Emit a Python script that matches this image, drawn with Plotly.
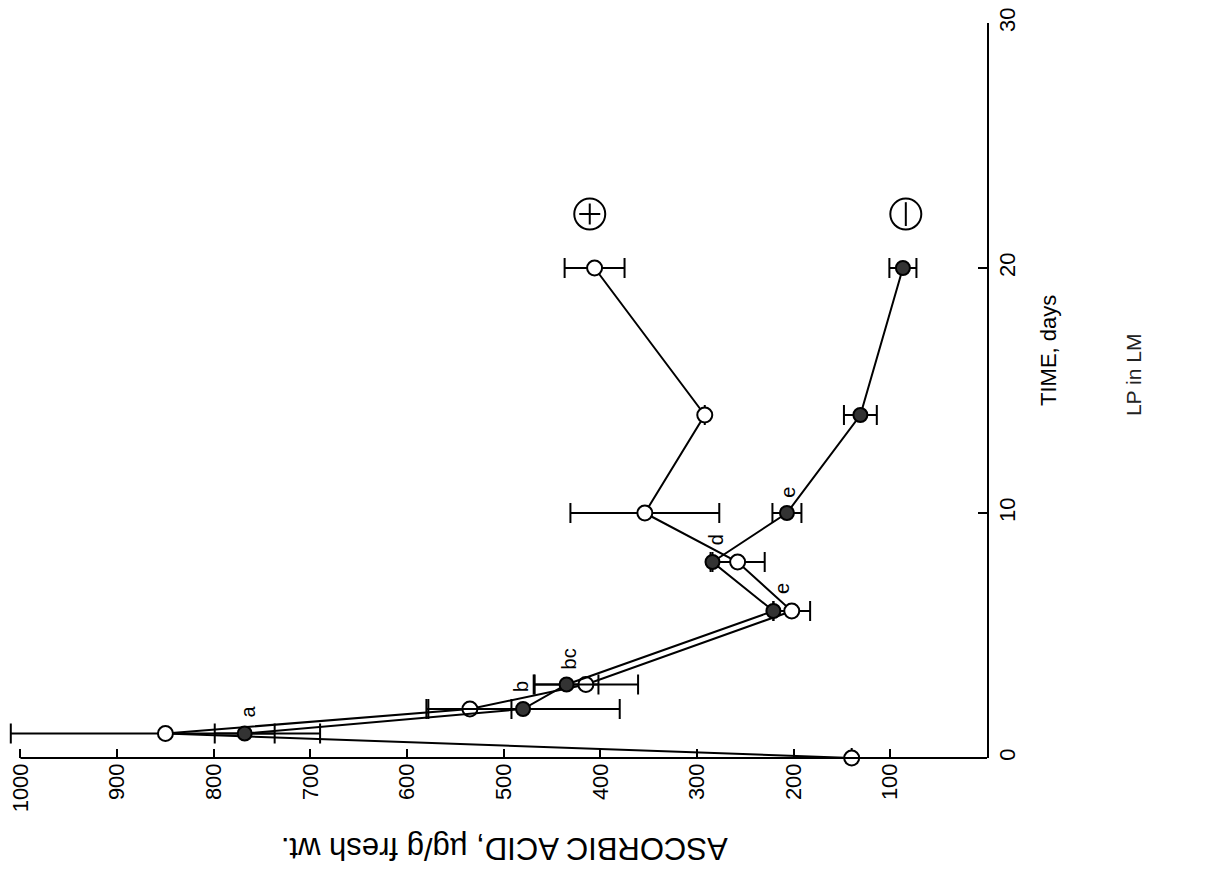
import plotly.graph_objects as go

# Time after transfer (days) and ascorbic acid content (ug/g fresh wt.)
days_plus = [0, 1, 2, 3, 6, 8, 10, 14, 20]
acid_plus = [140, 850, 535, 415, 202, 258, 354, 292, 406]
err_plus = [0, 160, 43, 54, 19, 28, 77, 0, 31]

days_minus = [1, 2, 3, 6, 8, 10, 14, 20]
acid_minus = [768, 480, 435, 221, 284, 207, 131, 87]
err_minus = [31, 100, 33, 0, 0, 15, 17, 14]

# Significance letters (acid, day)
sig_text = ["a", "b", "bc", "e", "d", "e"]
sig_acid = [765, 482, 432, 212, 280, 206]
sig_day = [1.88, 2.9, 4.04, 6.9, 8.9, 10.86]

# Circled treatment labels (acid, day)
tag_acid = [411, 84]
tag_day = [22.2, 22.2]

acid_ticks = [100, 200, 300, 400, 500, 600, 700, 800, 900, 1000]
day_ticks = [0, 10, 20, 30]

ACID_MAX = 1000
ACID_VIEW = 1016

FONT = "Liberation Sans, Arial, sans-serif"

fig = go.Figure()

fig.add_trace(go.Scatter(
    x=acid_plus, y=days_plus, mode="lines+markers",
    line=dict(color="black", width=2),
    marker=dict(symbol="circle", size=15, color="white",
                line=dict(color="black", width=2)),
    error_x=dict(type="data", array=err_plus, visible=True,
                 color="black", thickness=2, width=10),
    cliponaxis=False, showlegend=False,
))

fig.add_trace(go.Scatter(
    x=acid_minus, y=days_minus, mode="lines+markers",
    line=dict(color="black", width=2),
    marker=dict(symbol="circle", size=14, color="#333333",
                line=dict(color="black", width=2)),
    error_x=dict(type="data", array=err_minus, visible=True,
                 color="black", thickness=2, width=10),
    cliponaxis=False, showlegend=False,
))

# circled + and - treatment tags
fig.add_trace(go.Scatter(
    x=tag_acid, y=tag_day, mode="markers",
    marker=dict(symbol="circle-open", size=31, color="black",
                line=dict(color="black", width=2)),
    cliponaxis=False, showlegend=False, hoverinfo="skip",
))
fig.add_trace(go.Scatter(
    x=tag_acid[:1], y=tag_day[:1], mode="markers",
    marker=dict(symbol="cross-thin-open", size=15, color="black",
                line=dict(color="black", width=2)),
    cliponaxis=False, showlegend=False, hoverinfo="skip",
))
fig.add_trace(go.Scatter(
    x=tag_acid[1:], y=tag_day[1:], mode="markers",
    marker=dict(symbol="line-ns-open", size=17, color="black",
                line=dict(color="black", width=2)),
    cliponaxis=False, showlegend=False, hoverinfo="skip",
))

for t, a, d in zip(sig_text, sig_acid, sig_day):
    fig.add_annotation(x=a, y=d, xref="x", yref="y", text=t,
                       textangle=-90, showarrow=False,
                       xanchor="center", yanchor="middle",
                       font=dict(family=FONT, size=20, color="black"))

# acid axis line runs only over the labelled span
fig.add_shape(type="line", xref="x", yref="paper",
              x0=ACID_MAX, x1=0, y0=0, y1=0,
              line=dict(color="black", width=2))

fig.add_annotation(x=0.508, y=-0.1224, xref="paper", yref="paper",
                   text="ASCORBIC ACID, \u00b5g/g fresh wt.", textangle=180,
                   showarrow=False, xanchor="center", yanchor="middle",
                   font=dict(family=FONT, size=31, color="black"))
fig.add_annotation(x=1.062, y=0.555, xref="paper", yref="paper",
                   text="TIME, days", textangle=-90, showarrow=False,
                   xanchor="center", yanchor="middle",
                   font=dict(family=FONT, size=22, color="black"))
fig.add_annotation(x=1.1487, y=0.521, xref="paper", yref="paper",
                   text="LP in LM", textangle=-90, showarrow=False,
                   xanchor="center", yanchor="middle",
                   font=dict(family=FONT, size=21, color="#222222"))

fig.update_xaxes(
    range=[ACID_VIEW, 0], tickvals=acid_ticks,
    ticktext=[str(v) for v in acid_ticks],
    ticks="inside", ticklen=9, tickwidth=2, tickcolor="black",
    showline=False,
    tickangle=-90, showgrid=False, zeroline=False,
    tickfont=dict(family=FONT, size=22, color="black"),
)
fig.update_yaxes(
    range=[0, 30], side="right", tickvals=day_ticks,
    ticktext=[str(v) for v in day_ticks],
    ticks="inside", ticklen=9, tickwidth=2, tickcolor="black",
    showline=True, linewidth=2, linecolor="black",
    tickangle=-90, showgrid=False, zeroline=False,
    tickfont=dict(family=FONT, size=22, color="black"),
)

fig.update_layout(
    width=1208, height=873,
    margin=dict(l=5, r=221, t=23, b=115),
    paper_bgcolor="white", plot_bgcolor="white",
)

fig.write_html("out.html")
